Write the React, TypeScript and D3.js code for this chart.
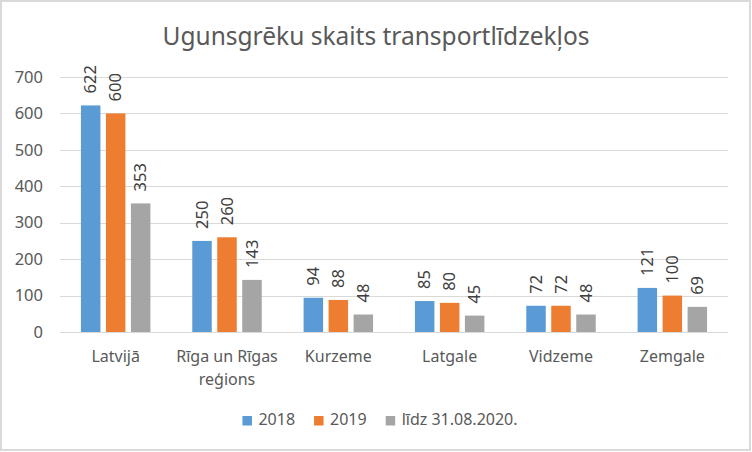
import React, { useEffect, useRef } from "react";
import * as d3 from "d3";

const categories = ["Latvijā", "Rīga un Rīgas reģions", "Kurzeme", "Latgale", "Vidzeme", "Zemgale"];
const seriesNames = ["2018", "2019", "līdz 31.08.2020."];
const values2018 = [622, 250, 94, 85, 72, 121];
const values2019 = [600, 260, 88, 80, 72, 100];
const values2020 = [353, 143, 48, 45, 48, 69];
const colors = ["#5B9BD5", "#ED7D31", "#A5A5A5"];
const yTicks = [0, 100, 200, 300, 400, 500, 600, 700];
const title = "Ugunsgrēku skaits transportlīdzekļos";

const W = 752;
const H = 452;
const FONT = "'Noto Sans', 'Open Sans', sans-serif";

export default function App() {
  const ref = useRef<SVGSVGElement | null>(null);

  useEffect(() => {
    const svg = d3.select(ref.current);
    svg.selectAll("*").remove();

    const series = [values2018, values2019, values2020];
    const left = 60, right = 728, top = 77, bottom = 332;

    const y = d3.scaleLinear().domain([0, 700]).range([bottom, top]);
    const x0 = d3.scaleBand<string>().domain(categories).range([left, right]).paddingInner(0.376).paddingOuter(0.188);
    const x1 = d3.scaleBand<string>().domain(seriesNames).range([0, x0.bandwidth()]).paddingInner(0.22).paddingOuter(0);

    svg.append("rect").attr("x", 1).attr("y", 1).attr("width", W - 3).attr("height", H - 3)
      .attr("fill", "#fff").attr("stroke", "#d9d9d9").attr("stroke-width", 2);

    svg.append("text").attr("x", 376).attr("y", 45).attr("text-anchor", "middle")
      .attr("font-family", FONT).attr("font-size", 24.5).attr("fill", "#595959").text(title);

    // gridlines
    svg.append("g").selectAll("line").data(yTicks).join("line")
      .attr("x1", left).attr("x2", right)
      .attr("y1", (d) => Math.round(y(d)) + 0.5).attr("y2", (d) => Math.round(y(d)) + 0.5)
      .attr("stroke", "#d9d9d9").attr("stroke-width", 1);

    // y tick labels
    svg.append("g").selectAll("text").data(yTicks).join("text")
      .attr("x", 43).attr("y", (d) => y(d)).attr("dy", "0.35em").attr("text-anchor", "end")
      .attr("font-family", FONT).attr("font-size", 16.5).attr("fill", "#595959").text((d) => String(d));

    // bars
    const groups = svg.append("g").selectAll("g").data(categories).join("g")
      .attr("transform", (c) => `translate(${x0(c)},0)`);
    groups.each(function (c, i) {
      const g = d3.select(this);
      seriesNames.forEach((s, j) => {
        const v = series[j][i];
        const bx = x1(s) as number;
        g.append("rect").attr("x", bx).attr("y", y(v)).attr("width", x1.bandwidth())
          .attr("height", y(0) - y(v)).attr("fill", colors[j]);
        const cx = bx + x1.bandwidth() / 2;
        const ly = y(v) - 12;
        g.append("text").attr("transform", `translate(${cx},${ly}) rotate(-90)`)
          .attr("dy", "0.35em").attr("text-anchor", "start")
          .attr("font-family", FONT).attr("font-size", 16.5).attr("fill", "#404040").text(String(v));
      });
    });

    // category labels with wrapping
    const maxW = x0.step();
    categories.forEach((c) => {
      const cx = (x0(c) as number) + x0.bandwidth() / 2;
      const t = svg.append("text").attr("text-anchor", "middle").attr("font-family", FONT)
        .attr("font-size", 16).attr("fill", "#595959");
      const words = c.split(" ");
      const lines: string[] = [];
      let cur = "";
      const probe = t.append("tspan");
      words.forEach((w) => {
        const test = cur ? cur + " " + w : w;
        probe.text(test);
        const len = (probe.node() as SVGTSpanElement).getComputedTextLength();
        if (len > maxW && cur) {
          lines.push(cur);
          cur = w;
        } else cur = test;
      });
      lines.push(cur);
      probe.remove();
      lines.forEach((ln, k) => {
        t.append("tspan").attr("x", cx).attr("y", 362 + k * 23).text(ln);
      });
    });

    // legend
    const lg = svg.append("g");
    let xpos = 0;
    seriesNames.forEach((s, j) => {
      const tx = lg.append("text").attr("font-family", FONT).attr("font-size", 16).attr("fill", "#595959")
        .attr("y", 425).text(s);
      const tw = (tx.node() as SVGTextElement).getComputedTextLength();
      lg.append("rect").attr("x", xpos).attr("y", 416).attr("width", 9.5).attr("height", 9.5).attr("fill", colors[j]);
      tx.attr("x", xpos + 16);
      xpos += 16 + tw + 19;
    });
    const total = xpos - 19;
    lg.attr("transform", `translate(${380 - total / 2},0)`);
  }, []);

  return (
    <svg ref={ref} width={W} height={H} style={{ position: "absolute", left: 0, top: 0 }} />
  );
}
